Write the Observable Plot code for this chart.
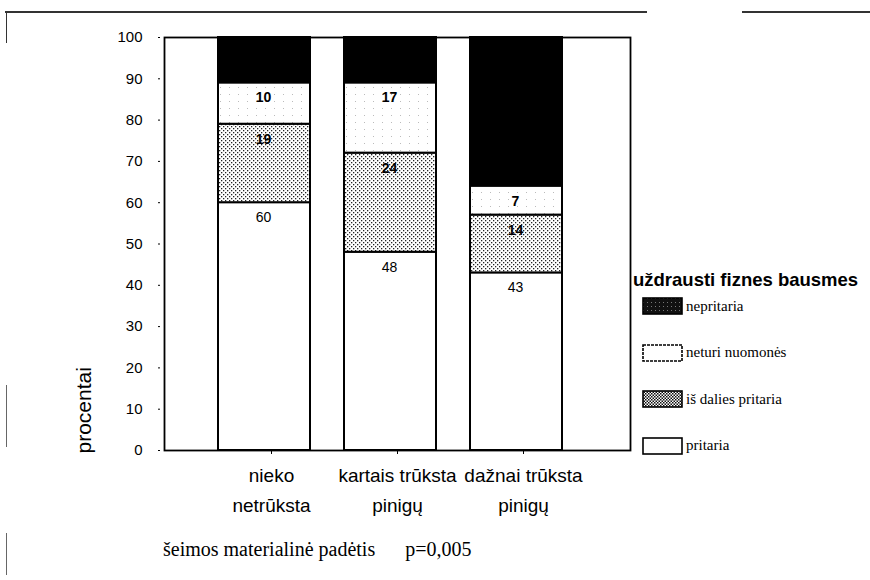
<!DOCTYPE html>
<html>
<head>
<meta charset="utf-8">
<script src="https://cdn.jsdelivr.net/npm/d3@7"></script>
<script src="https://cdn.jsdelivr.net/npm/@observablehq/plot@0.6"></script>
<style>
  body { margin: 0; background: white; }
  #wrap { position: relative; width: 870px; height: 580px; overflow: hidden; background: white; }
  #chart { position: absolute; left: 0; top: 0; }
  .scan { position: absolute; background: #333; }
  #caption { position: absolute; left: 163px; top: 538px; font-family: "Liberation Serif", "Times New Roman", serif; font-size: 20px; line-height: 23px; color: #000; white-space: pre; }
  #caption .p { margin-left: 30px; }
  #legend { position: absolute; left: 633px; top: 269px; font-family: "Liberation Sans", Arial, sans-serif; }
  #legend .ttl { font-weight: bold; font-size: 18.5px; line-height: 22px; white-space: nowrap; }
  #legend .item { position: absolute; left: 9px; height: 18px; display: flex; align-items: center; white-space: nowrap; }
  #legend .item span { font-family: "Liberation Serif", "Times New Roman", serif; font-size: 15px; margin-left: 2px; }
</style>
</head>
<body>
<svg width="0" height="0" style="position:absolute">
  <defs>
    <pattern id="dots" width="4" height="4" patternUnits="userSpaceOnUse">
      <rect width="4" height="4" fill="white"/>
      <rect x="0" y="0" width="1.3" height="1.3" fill="#222"/>
      <rect x="2" y="2" width="1.3" height="1.3" fill="#222"/>
    </pattern>
    <pattern id="dotsDense" width="3" height="3" patternUnits="userSpaceOnUse">
      <rect width="3" height="3" fill="white"/>
      <rect x="0" y="0" width="1.5" height="1.5" fill="#111"/>
      <rect x="1.5" y="1.5" width="1.5" height="1.5" fill="#111"/>
    </pattern>
    <pattern id="speck" width="9" height="7" patternUnits="userSpaceOnUse">
      <rect width="9" height="7" fill="white"/>
      <rect x="2" y="3" width="1" height="1" fill="#bbb"/>
    </pattern>
    <pattern id="darkspeck" width="4" height="4" patternUnits="userSpaceOnUse">
      <rect width="4" height="4" fill="#111"/>
      <rect x="1" y="1" width="1" height="1" fill="#777"/>
    </pattern>
  </defs>
</svg>
<div id="wrap">
  <div class="scan" style="left:5px; top:11px; width:642px; height:1.5px;"></div>
  <div class="scan" style="left:742px; top:11px; width:128px; height:1.5px;"></div>
  <div class="scan" style="left:6px; top:11px; width:1.2px; height:32px;"></div>
  <div class="scan" style="left:6px; top:385px; width:1.2px; height:62px; background:#666;"></div>
  <div class="scan" style="left:6px; top:533px; width:1.2px; height:42px; background:#666;"></div>
  <div id="chart"></div>
  <div id="legend"></div>
  <div id="caption"></div>
</div>
<script>
// ---- data ----
const categories = ["nieko\nnetrūksta", "kartais trūksta\npinigų", "dažnai trūksta\npinigų"];
const series = ["pritaria", "iš dalies pritaria", "neturi nuomonės", "nepritaria"];
const pritaria = [60, 48, 43];
const isDaliesPritaria = [19, 24, 14];
const neturiNuomones = [10, 17, 7];
const nepritaria = [11, 11, 36];
const yTicks = [0, 10, 20, 30, 40, 50, 60, 70, 80, 90, 100];
const yLabel = "procentai";
const legendTitle = "uždrausti fiznes bausmes";
const captionText = "šeimos materialinė padėtis";
const pText = "p=0,005";

// ---- styles ----
const barFills = ["white", "url(#dots)", "url(#speck)", "black"];
const swatchFills = ["white", "url(#dotsDense)", "white", "url(#darkspeck)"];

const valuesBySeries = [pritaria, isDaliesPritaria, neturiNuomones, nepritaria];
const rows = [];
categories.forEach((c, i) => {
  series.forEach((s, j) => rows.push({cat: c, series: s, value: valuesBySeries[j][i]}));
});

const font = "'Liberation Sans', Arial, sans-serif";

const plot = Plot.plot({
  width: 870,
  height: 520,
  marginLeft: 164,
  marginRight: 240,
  marginTop: 37,
  marginBottom: 70,
  style: {fontFamily: font, background: "transparent", color: "black"},
  x: {domain: categories, paddingInner: 0.273, paddingOuter: 0.478, label: null},
  y: {domain: [0, 100], label: null},
  color: {domain: series, range: barFills},
  marks: [
    Plot.barY(rows, {x: "cat", y: "value", fill: "series", stroke: "black", strokeWidth: 2, dx: -7}),
    Plot.text(rows, Plot.stackY2({
      x: "cat", y: "value",
      text: d => d.series === "pritaria" ? String(d.value) : null,
      dy: 15, dx: -8, fontSize: 14, fill: "black"
    })),
    Plot.text(rows, Plot.stackY2({
      x: "cat", y: "value",
      text: d => d.series !== "pritaria" && d.series !== "nepritaria" ? String(d.value) : null,
      dy: 15, dx: -8, fontSize: 14, fontWeight: "bold", fill: "black"
    })),
    Plot.frame({stroke: "black", strokeWidth: 1.8}),
    Plot.axisY({ticks: yTicks, tickSize: 2, dx: -4, tickPadding: 16, fontSize: 15, label: null}),
    Plot.axisX({tickSize: 4, tickPadding: 7, fontSize: 19, lineHeight: 1.55, label: null}),
    Plot.text([yLabel], {frameAnchor: "bottom-left", rotate: -90, textAnchor: "start", dx: -74, dy: 3, fontSize: 21, fill: "black"})
  ]
});
document.getElementById("chart").appendChild(plot);

// ---- legend (top series first) ----
const legend = document.getElementById("legend");
const ttl = document.createElement("div");
ttl.className = "ttl";
ttl.textContent = legendTitle;
legend.appendChild(ttl);
const order = [3, 2, 1, 0];
order.forEach((j, k) => {
  const item = document.createElement("div");
  item.className = "item";
  item.style.top = (28 + k * 46.5) + "px";
  const ns = "http://www.w3.org/2000/svg";
  const sw = document.createElementNS(ns, "svg");
  sw.setAttribute("width", "42");
  sw.setAttribute("height", "18");
  const r = document.createElementNS(ns, "rect");
  r.setAttribute("x", "1"); r.setAttribute("y", "1");
  r.setAttribute("width", "39"); r.setAttribute("height", "16");
  r.setAttribute("fill", swatchFills[j]);
  r.setAttribute("stroke", "black");
  r.setAttribute("stroke-width", "1.6");
  if (series[j] === "neturi nuomonės") r.setAttribute("stroke-dasharray", "3 1");
  sw.appendChild(r);
  item.appendChild(sw);
  const sp = document.createElement("span");
  sp.textContent = series[j];
  item.appendChild(sp);
  legend.appendChild(item);
});

const cap = document.getElementById("caption");
cap.appendChild(document.createTextNode(captionText));
const ps = document.createElement("span");
ps.className = "p";
ps.textContent = pText;
cap.appendChild(ps);
</script>
</body>
</html>
